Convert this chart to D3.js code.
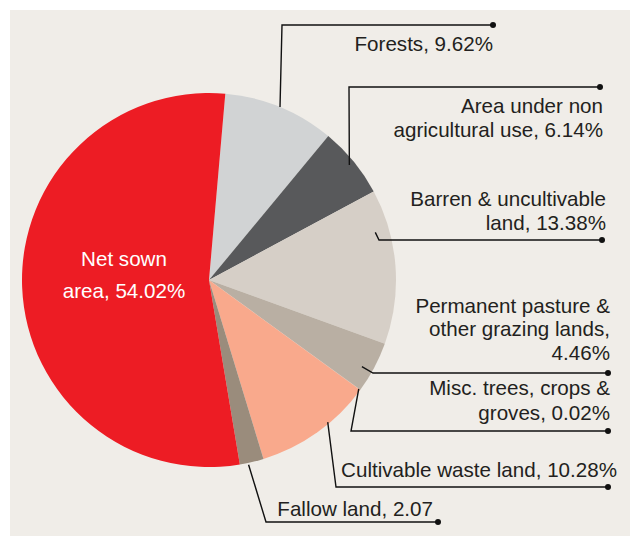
<!DOCTYPE html>
<html><head><meta charset="utf-8">
<script src="https://cdn.jsdelivr.net/npm/d3@7"></script>
<style>html,body{margin:0;padding:0;background:#fff;}svg{display:block;}</style>
</head><body>
<svg id="chart" width="630" height="536"></svg>
<script>
// ---- data ----
const categories = ["Forests", "Area under non agricultural use", "Barren & uncultivable land",
  "Permanent pasture & other grazing lands", "Misc. trees, crops & groves",
  "Cultivable waste land", "Fallow land", "Net sown area"];
const values = [9.62, 6.14, 13.38, 4.46, 0.02, 10.28, 2.07, 54.02];
const labelLines = [
  ["Forests, 9.62%"],
  ["Area under non", "agricultural use, 6.14%"],
  ["Barren & uncultivable", "land, 13.38%"],
  ["Permanent pasture &", "other grazing lands,", "4.46%"],
  ["Misc. trees, crops &", "groves, 0.02%"],
  ["Cultivable waste land, 10.28%"],
  ["Fallow land, 2.07"],
  ["Net sown", "area, 54.02%"]
];
const colors = ["#d1d3d4", "#58595b", "#d6cfc7", "#b9afa3", "#b9afa3", "#f9a98c", "#9a8c7c", "#ed1c24"];

// ---- layout (positions only) ----
const cx = 209, cy = 280, R = 187;
const startDeg = 5;
// leader: fraction within slice, radius ratio, elbow point, end x; label: x, anchor, baselines
const leaders = [
  {f:0.5, r:1.0, ex:282, ey:25, x2:493, tx:493, anchor:"end", ty:[51]},
  {f:0.5, r:0.97, ex:349, ey:87, x2:600, tx:603, anchor:"end", ty:[113,137]},
  {f:0.255, r:0.925, ex:379, ey:240, x2:602, tx:606, anchor:"end", ty:[206,230]},
  {f:0.6, r:0.94, ex:373, ey:373, x2:608, tx:610, anchor:"end", ty:[313,336,360]},
  {f:0.5, r:0.99, ex:351, ey:431, x2:608, tx:610, anchor:"end", ty:[395,420]},
  {f:0.38, r:0.99, ex:336, ey:487, x2:608, tx:617, anchor:"end", ty:[477]},
  {f:0.65, r:1.01, ex:266, ey:522, x2:438, tx:433, anchor:"end", ty:[516]},
  null
];

const svg = d3.select("#chart");
svg.append("rect").attr("x",10).attr("y",10).attr("width",620).attr("height",526).attr("fill","#f0ede8");

const data = categories.map((c,i)=>({name:c, value:values[i], i}));
const pie = d3.pie().value(d=>d.value).sort(null)
  .startAngle(startDeg*Math.PI/180).endAngle(startDeg*Math.PI/180 + 2*Math.PI);
const arcs = pie(data);
const arc = d3.arc().innerRadius(0).outerRadius(R);

const g = svg.append("g").attr("transform",`translate(${cx},${cy})`);
g.selectAll("path.slice").data(arcs).join("path")
  .attr("class","slice")
  .attr("d",arc)
  .attr("fill",d=>colors[d.data.i]);

const font = "'Liberation Sans', Arial, Helvetica, sans-serif";
const fs = 20.6;

arcs.forEach((a,i)=>{
  const L = leaders[i];
  if(!L) return;
  const ang = a.startAngle + (a.endAngle - a.startAngle)*L.f;
  const sx = cx + Math.sin(ang)*R*L.r, sy = cy - Math.cos(ang)*R*L.r;
  svg.append("path")
    .attr("d", d3.line()([[sx,sy],[L.ex,L.ey],[L.x2,L.ey]]))
    .attr("fill","none").attr("stroke","#111").attr("stroke-width",1.4);
  svg.append("circle").attr("cx",L.x2).attr("cy",L.ey).attr("r",3).attr("fill","#111");
  const t = svg.append("text").attr("font-family",font).attr("font-size",fs)
    .attr("fill","#231f20").attr("text-anchor",L.anchor);
  labelLines[i].forEach((s,k)=>{
    t.append("tspan").attr("x",L.tx).attr("y",L.ty[k]).text(s);
  });
});

// Net sown label inside
const ns = svg.append("text").attr("font-family",font).attr("font-size",fs)
  .attr("fill","#ffffff").attr("text-anchor","middle");
labelLines[7].forEach((s,k)=>{
  ns.append("tspan").attr("x",124).attr("y",[266,298][k]).text(s);
});
</script>
</body></html>
